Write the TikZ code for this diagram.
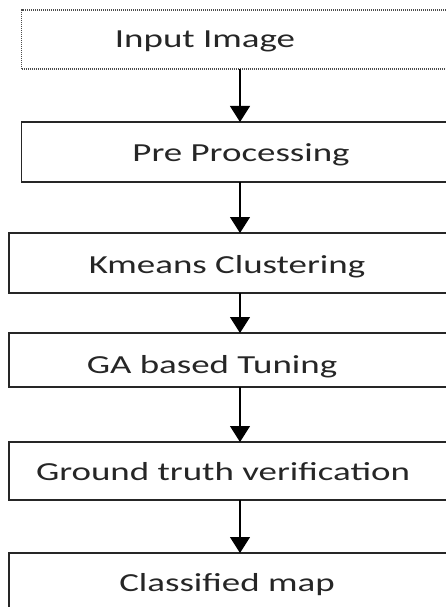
\documentclass[tikz,border=0pt]{standalone}
\usepackage{fontspec}
\newfontfamily\flowfont[FakeStretch=1.42]{Carlito}
\usetikzlibrary{arrows.meta,positioning}

\begin{document}
\begin{tikzpicture}[x=1pt,y=-1pt,node distance=53pt,
  box/.style={rectangle,draw=black!85,line width=1.2pt,minimum width=462pt,
              minimum height=60pt,inner sep=0pt,outer sep=0pt},
  lbl/.style={font=\flowfont\fontsize{26}{30}\selectfont,text=black!85,
              inner sep=0pt,anchor=base},
  arr/.style={-{Triangle[length=16pt,width=20pt]},line width=1.1pt,draw=black}]
\clip (0,0) rectangle (446,607);
% process boxes, all on one vertical axis
\node[box,minimum width=436.6pt,minimum height=59pt,draw=black!70,line width=1.4pt,
      dash pattern=on 1pt off 1pt] (inp) at (240,39.5) {};
\node[box,below=of inp,minimum width=436.6pt] (pre) {};
\node[box,below=51pt of pre] (km) {};
\node[box,below=40pt of km,minimum height=54pt] (ga) {};
\node[box,below=55pt of ga,minimum height=58pt] (gt) {};
\node[box,below=of gt] (map) {};
% step names
\node[lbl] (tinp) at ([xshift=-35pt,yshift=-8.5pt]inp.center) {Input Image};
\node[lbl] (tpre) at ([xshift=1pt,yshift=-9pt]pre.center) {Pre Processing};
\node[lbl] (tkm) at ([xshift=-13pt,yshift=-10pt]km.center) {Kmeans Clustering};
\node[lbl] (tga) at ([xshift=-28pt,yshift=-13pt]ga.center) {GA based Tuning};
\node[lbl] (tgt) at ([xshift=-17pt,yshift=-9pt]gt.center) {Ground truth verification};
\node[lbl] (tmap) at ([xshift=-13pt,yshift=-8pt]map.center) {Classified map};
% flow
\draw[arr] (inp)--(pre); \draw[arr] (pre)--(km);
\draw[arr] (km)--(ga); \draw[arr] (ga)--(gt);
\draw[arr] (gt)--(map);
\end{tikzpicture}
\end{document}
